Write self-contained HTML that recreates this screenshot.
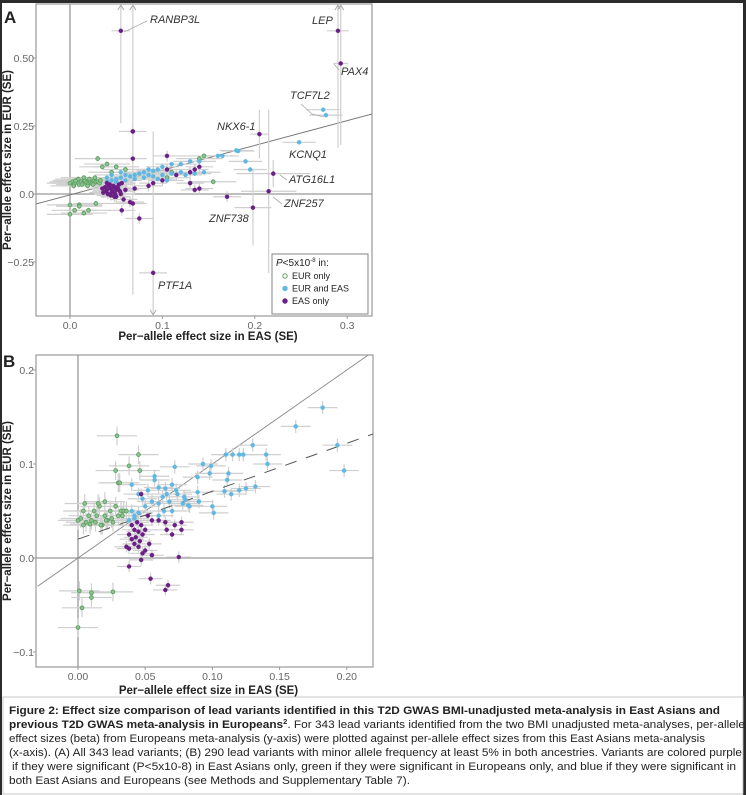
<!DOCTYPE html>
<html><head><meta charset="utf-8"><style>
html,body{margin:0;padding:0;background:#2b2b2b;}
svg{display:block;}
text{font-family:"Liberation Sans",Arial,sans-serif;}
</style></head><body>
<svg id="fig" width="746" height="795" viewBox="0 0 746 795" xmlns="http://www.w3.org/2000/svg">
<rect x="2" y="3" width="741" height="792" fill="#fff"/>
<g id="panelA"></g>
<g id="panelB"></g>
<g font-size="11" fill="#222">
<rect x="3" y="697" width="740" height="97" fill="none" stroke="#bbb" stroke-width="0.8"/>
<text x="9" y="714" font-weight="bold" textLength="711" lengthAdjust="spacingAndGlyphs">Figure 2: Effect size comparison of lead variants identified in this T2D GWAS BMI-unadjusted meta-analysis in East Asians and</text>
<text x="9" y="728" textLength="736" lengthAdjust="spacingAndGlyphs"><tspan font-weight="bold">previous T2D GWAS meta-analysis in Europeans</tspan><tspan font-weight="bold" font-size="7" dy="-4">2</tspan><tspan dy="4">.  For 343 lead variants identified from the two BMI unadjusted meta-analyses, per-allele</tspan></text>
<text x="9" y="742" textLength="696" lengthAdjust="spacingAndGlyphs">effect sizes (beta) from Europeans meta-analysis (y-axis) were plotted against per-allele effect sizes from this East Asians meta-analysis</text>
<text x="9" y="756" textLength="733" lengthAdjust="spacingAndGlyphs">(x-axis). (A) All 343 lead variants; (B) 290 lead variants with minor allele frequency at least 5% in both ancestries. Variants are colored purple</text>
<text x="12" y="770" textLength="724" lengthAdjust="spacingAndGlyphs">if they were significant (P&lt;5x10-8) in East Asians only, green if they were significant in Europeans only, and blue if they were significant in</text>
<text x="9" y="784" textLength="401" lengthAdjust="spacingAndGlyphs">both East Asians and Europeans (see Methods and Supplementary Table 7).</text>
</g>
</svg>
<script>
// ---------- Panel A data ----------
const aTicksX = [0.0, 0.1, 0.2, 0.3];
const aTickLabelsX = ["0.0", "0.1", "0.2", "0.3"];
const aTicksY = [-0.25, 0.0, 0.25, 0.50];
const aTickLabelsY = ["\u22120.25", "0.0", "0.25", "0.50"];
const aGreenX = [0.0,0.003,0.005,0.007,0.01,0.012,0.014,0.016,0.018,0.02,0.022,0.024,0.026,0.028,0.03,0.032,0.004,0.009,0.015,0.021,0.027,0.033,0.006,0.013,0.019,0.025,0.03,0.035,0.04,0.05,0.14,0.145,0.155,0.105,0.11,0.0,0.01,0.015,0.005,0.0,0.02,0.028,0.01,0.045,0.06];
const aGreenY = [0.04,0.045,0.04,0.05,0.035,0.045,0.04,0.05,0.042,0.038,0.046,0.04,0.05,0.044,0.045,0.04,0.03,0.055,0.06,0.055,0.06,0.05,0.048,0.035,0.03,0.035,0.13,0.1,0.11,0.1,0.13,0.14,0.045,0.06,0.08,-0.04,-0.04,-0.07,-0.06,-0.075,-0.06,-0.035,-0.045,0.08,0.09];
const aBlueX = [0.18,0.182,0.16,0.165,0.19,0.195,0.14,0.13,0.12,0.11,0.1,0.095,0.09,0.085,0.08,0.075,0.07,0.065,0.06,0.055,0.05,0.045,0.04,0.05,0.06,0.07,0.08,0.09,0.1,0.11,0.12,0.125,0.135,0.145,0.085,0.095,0.105,0.04,0.045,0.055,0.274,0.277,0.248];
const aBlueY = [0.16,0.158,0.14,0.14,0.12,0.09,0.12,0.12,0.11,0.11,0.1,0.09,0.085,0.09,0.08,0.075,0.07,0.065,0.07,0.06,0.055,0.05,0.045,0.045,0.05,0.055,0.06,0.065,0.07,0.075,0.08,0.07,0.075,0.08,0.07,0.055,0.05,0.06,0.07,0.08,0.31,0.29,0.19];
const aPurpleX = [0.035,0.038,0.04,0.042,0.044,0.046,0.048,0.05,0.052,0.054,0.036,0.039,0.041,0.043,0.045,0.047,0.049,0.051,0.053,0.056,0.04,0.044,0.048,0.105,0.14,0.135,0.13,0.115,0.105,0.1,0.13,0.135,0.14,0.09,0.085,0.07,0.06,0.065,0.068,0.058,0.05,0.055,0.068,0.068,0.056,0.075,0.17];
const aPurpleY = [0.02,0.025,0.015,0.03,0.02,0.01,0.025,0.015,0.02,0.01,0.005,0.01,0.0,0.035,0.005,0.03,0.0,0.025,0.035,0.04,0.04,-0.005,-0.01,0.14,0.1,0.09,0.08,0.07,0.09,0.05,0.04,0.015,0.02,0.04,0.03,0.02,0.015,-0.03,-0.035,-0.02,-0.01,0.0,0.23,0.13,-0.06,-0.09,-0.01];
// special (labelled) variants with large SE: [x, y, group, xSE, ySE]
const aSpecialX = [0.055,0.068,0.29,0.293,0.205,0.22,0.215,0.198,0.09];
const aSpecialY = [0.60,0.23,0.60,0.48,0.22,0.075,0.01,-0.05,-0.29];
const aSpecialXSE = [0.01,0.01,0.012,0.008,0.01,0.04,0.03,0.02,0.015];
const aSpecialYSE = [0.34,0.6,0.43,0.3,0.09,0.05,0.3,0.14,0.52];
const aLabels = ["RANBP3L","LEP","PAX4","TCF7L2","NKX6-1","KCNQ1","ATG16L1","ZNF257","ZNF738","PTF1A"];

// ---------- Panel B data ----------
const bTicksX = [0.00, 0.05, 0.10, 0.15, 0.20];
const bTickLabelsX = ["0.00", "0.05", "0.10", "0.15", "0.20"];
const bTicksY = [-0.1, 0.0, 0.1, 0.2];
const bTickLabelsY = ["\u22120.1", "0.0", "0.1", "0.2"];
const bGreenX = [0.029,0.045,0.038,0.028,0.046,0.03,0.031,0.005,0.004,0.008,0.012,0.016,0.02,0.024,0.028,0.032,0.002,0.006,0.01,0.014,0.018,0.022,0.026,0.03,0.034,0.0,0.004,0.009,0.013,0.017,0.021,0.025,0.033,0.036,0.001,0.01,0.01,0.003,0.026,0.0,0.015,0.02];
const bGreenY = [0.13,0.11,0.098,0.093,0.093,0.08,0.08,0.058,0.05,0.045,0.05,0.055,0.045,0.05,0.055,0.05,0.042,0.038,0.04,0.045,0.035,0.04,0.038,0.045,0.05,0.04,0.035,0.036,0.038,0.035,0.04,0.042,0.045,0.05,-0.035,-0.037,-0.042,-0.053,-0.036,-0.074,0.058,0.06];
const bBlueX = [0.182,0.162,0.13,0.193,0.198,0.11,0.115,0.12,0.123,0.14,0.141,0.093,0.099,0.098,0.089,0.112,0.111,0.109,0.114,0.12,0.125,0.132,0.1,0.101,0.089,0.09,0.079,0.083,0.072,0.057,0.057,0.06,0.065,0.07,0.073,0.074,0.04,0.045,0.048,0.052,0.055,0.06,0.063,0.066,0.068,0.07,0.064,0.06,0.04,0.042,0.045,0.05,0.038,0.042,0.078,0.082,0.08];
const bBlueY = [0.16,0.14,0.12,0.12,0.093,0.11,0.11,0.11,0.11,0.11,0.1,0.1,0.098,0.09,0.086,0.09,0.083,0.071,0.068,0.072,0.074,0.076,0.055,0.048,0.07,0.06,0.065,0.055,0.097,0.087,0.083,0.075,0.074,0.078,0.072,0.068,0.078,0.068,0.063,0.072,0.06,0.058,0.065,0.068,0.06,0.05,0.05,0.045,0.05,0.045,0.048,0.055,0.04,0.042,0.058,0.056,0.062];
const bPurpleX = [0.04,0.042,0.045,0.038,0.04,0.043,0.046,0.048,0.05,0.047,0.044,0.036,0.038,0.042,0.045,0.05,0.053,0.048,0.047,0.055,0.047,0.038,0.054,0.065,0.067,0.075,0.066,0.07,0.072,0.077,0.077,0.065,0.06,0.052,0.055];
const bPurpleY = [0.035,0.03,0.028,0.025,0.02,0.022,0.018,0.025,0.03,0.035,0.038,0.012,0.01,0.015,0.012,0.008,0.015,0.005,-0.002,0.003,0.068,-0.009,-0.022,-0.034,-0.029,0.001,0.03,0.025,0.035,0.03,0.038,0.038,0.04,0.045,0.04];
const bFitIntercept = 0.02;
const bFitSlope = 0.51;

const NS = "http://www.w3.org/2000/svg";
const COL = {g:"#5e9e62", b:"#5fb8e3", p:"#6b1f86"};
function mk(parent, tag, attrs){ const e=document.createElementNS(NS,tag); for(const k in attrs) e.setAttribute(k,attrs[k]); parent.appendChild(e); return e; }

function axesFrame(g, box, xf, yf, tX, tLX, tY, tLY, xTitleY, prefix){
  const fr = mk(g,"rect",{x:box.x0,y:box.y0,width:box.x1-box.x0,height:box.y1-box.y0,fill:"none",stroke:"#9a9a9a","stroke-width":1.2});
  
  
  const zx = mk(g,"line",{x1:xf(0),x2:xf(0),y1:box.y0,y2:box.y1,stroke:"#999","stroke-width":1.3});
  
  
  const zy = mk(g,"line",{x1:box.x0,x2:box.x1,y1:yf(0),y2:yf(0),stroke:"#999","stroke-width":1.3});
  
  
  tX.forEach((v,i)=>{
    const t = mk(g,"line",{x1:xf(v),x2:xf(v),y1:box.y1,y2:box.y1+3,stroke:"#999"});
    
    
    const l = mk(g,"text",{x:xf(v),y:box.y1+13,"text-anchor":"middle","font-size":10.5,fill:"#666"}); l.textContent=tLX[i];
    
    
  });
  tY.forEach((v,i)=>{
    const t = mk(g,"line",{x1:box.x0-3,x2:box.x0,y1:yf(v),y2:yf(v),stroke:"#999"});
    
    
    const l = mk(g,"text",{x:box.x0-2,y:yf(v)+4,"text-anchor":"end","font-size":10.5,fill:"#666"}); l.textContent=tLY[i];
    
    
  });
  const xt = mk(g,"text",{x:(box.x0+box.x1)/2+4,y:xTitleY,"text-anchor":"middle","font-size":11.5,"font-weight":"bold",fill:"#222"}); xt.textContent="Per\u2212allele effect size in EAS (SE)";
  
  
  const cy=(box.y0+box.y1)/2;
  const yt = mk(g,"text",{x:0,y:0,transform:`translate(11,${cy}) rotate(-90)`,"text-anchor":"middle","font-size":11.5,"font-weight":"bold",fill:"#222"}); yt.textContent="Per\u2212allele effect size in EUR (SE)";
  
  
}

function errPoint(g, clipId, xf, yf, box, x, y, xe, ye, grp, prefix, arrows){
  const eg = mk(g,"g",{"clip-path":`url(#${clipId})`});
  
  
  mk(eg,"line",{x1:xf(x-xe),x2:xf(x+xe),y1:yf(y),y2:yf(y),stroke:"#cfcfcf","stroke-width":1.2});
  mk(eg,"line",{x1:xf(x),x2:xf(x),y1:yf(y-ye),y2:yf(y+ye),stroke:"#cfcfcf","stroke-width":1.2});
  if(arrows){
    if(yf(y+ye)<box.y0){ const a=mk(g,"path",{d:`M${xf(x)-3},${box.y0+6} L${xf(x)},${box.y0+1} L${xf(x)+3},${box.y0+6}`,fill:"none",stroke:"#aaa","stroke-width":1});
        }
    if(yf(y-ye)>box.y1){ const a=mk(g,"path",{d:`M${xf(x)-3},${box.y1-6} L${xf(x)},${box.y1-1} L${xf(x)+3},${box.y1-6}`,fill:"none",stroke:"#aaa","stroke-width":1});
        }
  }
}
function dot(g, xf, yf, x, y, grp, name){
  const c = mk(g,"circle",{cx:xf(x),cy:yf(y),r:grp==='g'?1.9:2.1,fill:grp==='g'?"#8cc58f":COL[grp],stroke:COL[grp],"stroke-width":grp==='g'?0.9:0.3});
  
  
}

// ---------- draw Panel A ----------
(function(){
  const g=document.getElementById('panelA');
  const box={x0:36,y0:4,x1:372,y1:316};
  const xf=v=>70+v*924, yf=v=>194-v*272;
  const defs=mk(g,"defs",{}); const cp=mk(defs,"clipPath",{id:"clipA"}); mk(cp,"rect",{x:box.x0,y:box.y0,width:box.x1-box.x0,height:box.y1-box.y0});
  axesFrame(g,box,xf,yf,aTicksX,aTickLabelsX,aTicksY,aTickLabelsY,340,'a');
  const idl = mk(g,"line",{x1:xf(-0.037),y1:yf(-0.037),x2:xf(0.33),y2:yf(0.33*0.9+0.0),stroke:"#777","stroke-width":1,"clip-path":"url(#clipA)"});
   
  aGreenX.forEach((x,i)=>errPoint(g,"clipA",xf,yf,box,x,aGreenY[i],0.025,0.01,'g','a'));
  aBlueX.forEach((x,i)=>errPoint(g,"clipA",xf,yf,box,x,aBlueY[i],0.018,0.008,'b','a'));
  aPurpleX.forEach((x,i)=>errPoint(g,"clipA",xf,yf,box,x,aPurpleY[i],0.015,0.02,'p','a'));
  aSpecialX.forEach((x,i)=>errPoint(g,"clipA",xf,yf,box,x,aSpecialY[i],aSpecialXSE[i],aSpecialYSE[i],'p','a',true));
  aGreenX.forEach((x,i)=>dot(g,xf,yf,x,aGreenY[i],'g','a-point-eur-only'));
  aBlueX.forEach((x,i)=>dot(g,xf,yf,x,aBlueY[i],'b','a-point-eur-and-eas'));
  aPurpleX.forEach((x,i)=>dot(g,xf,yf,x,aPurpleY[i],'p','a-point-eas-only'));
  aSpecialX.forEach((x,i)=>dot(g,xf,yf,x,aSpecialY[i],'p','a-point-labelled'));
  // gene labels
  const labPos=[[150,23],[312,24],[341,75],[290,99],[217,130],[289,158],[289,183],[284,207],[209,222],[158,289]];
  const leaders=["M124,32 L147,21","","M334,64 L339,70","M301,104 L312,114 L324,117","","","M280,175 L287,180","M273,197 L282,204",""," "];
  aLabels.forEach((t,i)=>{
    const l=mk(g,"text",{x:labPos[i][0],y:labPos[i][1],"font-size":11,"font-style":"italic",fill:"#333"}); l.textContent=t;
    
    
    if(leaders[i].trim()){ const p=mk(g,"path",{d:leaders[i],fill:"none",stroke:"#aaa","stroke-width":0.8});
        }
  });
  // legend
  const lg=mk(g,"g",{});  
  mk(lg,"rect",{x:272,y:254,width:96,height:60,fill:"#fff",stroke:"#666","stroke-width":0.8});
  const lt=mk(lg,"text",{x:276,y:266,"font-size":10,fill:"#222"}); lt.innerHTML='<tspan font-style="italic">P</tspan>&lt;5x10<tspan font-size="6" dy="-4">-8</tspan><tspan dy="4"> in:</tspan>';
   
  [["g","EUR only"],["b","EUR and EAS"],["p","EAS only"]].forEach((e,i)=>{
    const yy=279+i*12.5;
    const c=mk(lg,"circle",{cx:285,cy:yy-3,r:2.2,fill:e[0]==='g'?"#fff":COL[e[0]],stroke:COL[e[0]],"stroke-width":1});
     
    const tx=mk(lg,"text",{x:292,y:yy,"font-size":9,fill:"#222"}); tx.textContent=e[1];
     
  });
  const pl=mk(g,"text",{x:4,y:23,"font-size":17,"font-weight":"bold",fill:"#222"}); pl.textContent="A";
   
})();

// ---------- draw Panel B ----------
(function(){
  const g=document.getElementById('panelB');
  const box={x0:36,y0:355,x1:373,y1:667};
  const xf=v=>78+v*1344, yf=v=>558-v*940;
  const defs=mk(g,"defs",{}); const cp=mk(defs,"clipPath",{id:"clipB"}); mk(cp,"rect",{x:box.x0,y:box.y0,width:box.x1-box.x0,height:box.y1-box.y0});
  axesFrame(g,box,xf,yf,bTicksX,bTickLabelsX,bTicksY,bTickLabelsY,694,'b');
  const idl=mk(g,"line",{x1:xf(-0.03),y1:yf(-0.03),x2:xf(0.22),y2:yf(0.22),stroke:"#888","stroke-width":0.9,"clip-path":"url(#clipB)"});
   
  bGreenX.forEach((x,i)=>errPoint(g,"clipB",xf,yf,box,x,bGreenY[i],0.015,0.01,'g','b'));
  bBlueX.forEach((x,i)=>errPoint(g,"clipB",xf,yf,box,x,bBlueY[i],0.011,0.007,'b','b'));
  bPurpleX.forEach((x,i)=>errPoint(g,"clipB",xf,yf,box,x,bPurpleY[i],0.009,0.006,'p','b'));
  const fl=mk(g,"line",{x1:xf(0),y1:yf(bFitIntercept),x2:xf(0.22),y2:yf(bFitIntercept+bFitSlope*0.22),stroke:"#555","stroke-width":1,"stroke-dasharray":"12,10","clip-path":"url(#clipB)"});
   
  bGreenX.forEach((x,i)=>dot(g,xf,yf,x,bGreenY[i],'g','b-point-eur-only'));
  bBlueX.forEach((x,i)=>dot(g,xf,yf,x,bBlueY[i],'b','b-point-eur-and-eas'));
  bPurpleX.forEach((x,i)=>dot(g,xf,yf,x,bPurpleY[i],'p','b-point-eas-only'));
  const pl=mk(g,"text",{x:3,y:367,"font-size":17,"font-weight":"bold",fill:"#222"}); pl.textContent="B";
   
})();
</script>
</body></html>
